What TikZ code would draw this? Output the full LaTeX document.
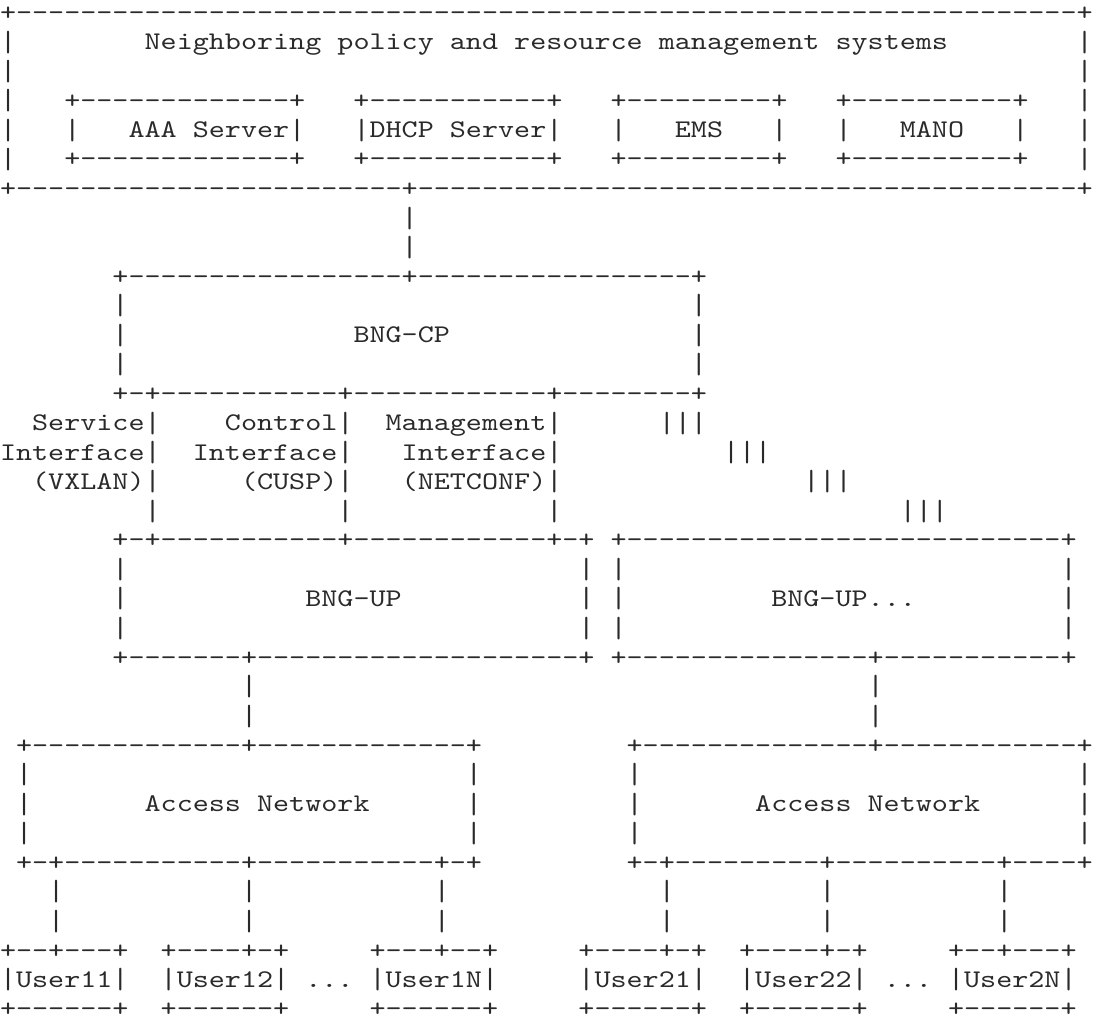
\documentclass[tikz,border=0pt]{standalone}
\usepackage{graphicx}
\usepackage{fontspec}
% typewriter face for the character-cell drawing; no TeX dash ligatures
\newfontfamily\asciifont{lmmono10-regular.otf}[Ligatures=TeXOff]
\ExplSyntaxOn
% n blank cells / n dash cells
\NewDocumentCommand\SPC{m}{\prg_replicate:nn{#1}{\nobreakspace}}
\NewDocumentCommand\DSH{m}{\prg_replicate:nn{#1}{-}}
\ExplSyntaxOff
% the bar character, slightly stretched and centred on the line
\newcommand\VB{\makebox[0.525em][c]{\raisebox{-0.056em}{\scalebox{1}[1.15]{|}}}}
\definecolor{ink}{HTML}{2A2A2A}
\tikzset{
  asciirow/.style={anchor=base west, inner sep=0pt, outer sep=0pt,
    xscale=1.205, text=ink, text depth=0pt,
    font=\asciifont\fontsize{25.4}{29.3}\selectfont}
}
\begin{document}
\begin{tikzpicture}[x=1pt,y=-1pt]
\fill[white] (0,0) rectangle (1093,1019);
\useasboundingbox (0,0) rectangle (1093,1019);
% policy / resource management systems
\node[asciirow] (r01) at (0,20.5)   {+\DSH{66}+};
\node[asciirow] (r02) at (0,49.8)   {\VB\SPC{8}Neighboring~policy~and~resource~management~systems\SPC{8}\VB};
\node[asciirow] (r03) at (0,79.1)   {\VB\SPC{66}\VB};
\node[asciirow] (r04) at (0,108.4)  {\VB\SPC{3}+\DSH{13}+\SPC{3}+\DSH{11}+\SPC{3}+\DSH{9}+\SPC{3}+\DSH{10}+\SPC{3}\VB};
\node[asciirow] (r05) at (0,137.7)  {\VB\SPC{3}\VB\SPC{3}AAA~Server\VB\SPC{3}\VB{}DHCP~Server\VB\SPC{3}\VB\SPC{3}EMS\SPC{3}\VB\SPC{3}\VB\SPC{3}MANO\SPC{3}\VB\SPC{3}\VB};
\node[asciirow] (r06) at (0,167.0)  {\VB\SPC{3}+\DSH{13}+\SPC{3}+\DSH{11}+\SPC{3}+\DSH{9}+\SPC{3}+\DSH{10}+\SPC{3}\VB};
\node[asciirow] (r07) at (0,196.3)  {+\DSH{24}+\DSH{41}+};
\node[asciirow] (r08) at (0,225.6)  {\SPC{25}\VB};
\node[asciirow] (r09) at (0,254.9)  {\SPC{25}\VB};
% control plane
\node[asciirow] (r10) at (0,284.2)  {\SPC{7}+\DSH{17}+\DSH{17}+};
\node[asciirow] (r11) at (0,313.5)  {\SPC{7}\VB\SPC{35}\VB};
\node[asciirow] (r12) at (0,342.8)  {\SPC{7}\VB\SPC{14}BNG-CP\SPC{15}\VB};
\node[asciirow] (r13) at (0,372.1)  {\SPC{7}\VB\SPC{35}\VB};
\node[asciirow] (r14) at (0,401.4)  {\SPC{7}+-+\DSH{11}+\DSH{12}+\DSH{8}+};
% interfaces
\node[asciirow] (r15) at (0,430.7)  {\SPC{2}Service\VB\SPC{4}Control\VB\SPC{2}Management\VB\SPC{6}\VB\VB\VB};
\node[asciirow] (r16) at (0,460.0)  {Interface\VB\SPC{2}Interface\VB\SPC{3}Interface\VB\SPC{10}\VB\VB\VB};
\node[asciirow] (r17) at (0,489.3)  {\SPC{2}(VXLAN)\VB\SPC{5}(CUSP)\VB\SPC{3}(NETCONF)\VB\SPC{15}\VB\VB\VB};
\node[asciirow] (r18) at (0,518.6)  {\SPC{9}\VB\SPC{11}\VB\SPC{12}\VB\SPC{21}\VB\VB\VB};
% user planes
\node[asciirow] (r19) at (0,547.9)  {\SPC{7}+-+\DSH{11}+\DSH{12}+-+\SPC{1}+\DSH{27}+};
\node[asciirow] (r20) at (0,577.2)  {\SPC{7}\VB\SPC{28}\VB\SPC{1}\VB\SPC{27}\VB};
\node[asciirow] (r21) at (0,606.5)  {\SPC{7}\VB\SPC{11}BNG-UP\SPC{11}\VB\SPC{1}\VB\SPC{9}BNG-UP...\SPC{9}\VB};
\node[asciirow] (r22) at (0,635.8)  {\SPC{7}\VB\SPC{28}\VB\SPC{1}\VB\SPC{27}\VB};
\node[asciirow] (r23) at (0,665.1)  {\SPC{7}+\DSH{7}+\DSH{20}+\SPC{1}+\DSH{15}+\DSH{11}+};
\node[asciirow] (r24) at (0,694.4)  {\SPC{15}\VB\SPC{38}\VB};
\node[asciirow] (r25) at (0,723.7)  {\SPC{15}\VB\SPC{38}\VB};
% access networks
\node[asciirow] (r26) at (0,753.0)  {\SPC{1}+\DSH{13}+\DSH{13}+\SPC{9}+\DSH{14}+\DSH{12}+};
\node[asciirow] (r27) at (0,782.3)  {\SPC{1}\VB\SPC{27}\VB\SPC{9}\VB\SPC{27}\VB};
\node[asciirow] (r28) at (0,811.6)  {\SPC{1}\VB\SPC{7}Access~Network\SPC{6}\VB\SPC{9}\VB\SPC{7}Access~Network\SPC{6}\VB};
\node[asciirow] (r29) at (0,840.9)  {\SPC{1}\VB\SPC{27}\VB\SPC{9}\VB\SPC{27}\VB};
\node[asciirow] (r30) at (0,870.2)  {\SPC{1}+-+\DSH{11}+\DSH{11}+-+\SPC{9}+-+\DSH{9}+\DSH{10}+\DSH{4}+};
\node[asciirow] (r31) at (0,899.5)  {\SPC{3}\VB\SPC{11}\VB\SPC{11}\VB\SPC{13}\VB\SPC{9}\VB\SPC{10}\VB};
\node[asciirow] (r32) at (0,928.8)  {\SPC{3}\VB\SPC{11}\VB\SPC{11}\VB\SPC{13}\VB\SPC{9}\VB\SPC{10}\VB};
% users
\node[asciirow] (r33) at (0,958.1)  {+\DSH{2}+\DSH{3}+\SPC{2}+\DSH{4}+-+\SPC{5}+\DSH{3}+\DSH{2}+\SPC{5}+\DSH{4}+-+\SPC{2}+\DSH{4}+-+\SPC{5}+\DSH{2}+\DSH{3}+};
\node[asciirow] (r34) at (0,987.4)  {\VB{}User11\VB\SPC{2}\VB{}User12\VB\SPC{1}...\SPC{1}\VB{}User1N\VB\SPC{5}\VB{}User21\VB\SPC{2}\VB{}User22\VB\SPC{1}...\SPC{1}\VB{}User2N\VB};
\node[asciirow] (r35) at (0,1016.7) {+\DSH{6}+\SPC{2}+\DSH{6}+\SPC{5}+\DSH{6}+\SPC{5}+\DSH{6}+\SPC{2}+\DSH{6}+\SPC{5}+\DSH{6}+};
\end{tikzpicture}
\end{document}
